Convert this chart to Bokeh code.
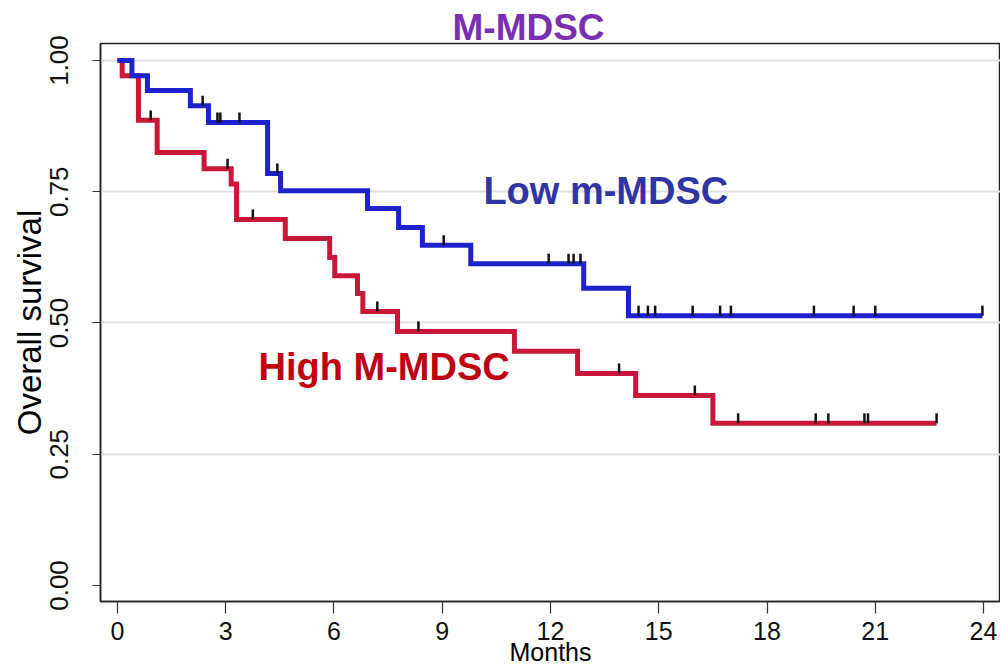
import numpy as np
from bokeh.plotting import figure
from bokeh.models import FixedTicker, Range1d, Label, Title
from bokeh.embed import file_html
from bokeh.resources import INLINE

# Kaplan-Meier step data (months, survival probability)
low_times = [0, 0.40, 0.83, 2.02, 2.52, 4.16, 4.52, 6.93, 7.79, 8.45, 9.79, 12.92, 14.16, 23.97]
low_surv = [1.0, 0.971, 0.943, 0.914, 0.882, 0.785, 0.752, 0.718, 0.682, 0.648, 0.613, 0.566, 0.514, 0.514]
low_censored = [2.36, 2.77, 2.85, 3.38, 4.43, 9.04, 11.95, 12.50, 12.64, 12.83,
                14.44, 14.70, 14.90, 15.94, 16.70, 17.00, 19.30, 20.40, 21.00, 23.97]

high_times = [0, 0.13, 0.58, 1.10, 2.40, 3.15, 3.30, 4.65, 5.88, 6.02, 6.65, 6.80,
              7.76, 11.00, 12.75, 14.36, 16.50, 22.70]
high_surv = [1.0, 0.971, 0.886, 0.825, 0.794, 0.765, 0.697, 0.661, 0.625, 0.590, 0.556,
             0.522, 0.484, 0.446, 0.404, 0.362, 0.309, 0.309]
high_censored = [0.92, 3.05, 3.75, 7.20, 8.34, 13.90, 16.00, 17.20, 19.35, 19.70, 20.70, 20.80, 22.70]

x_ticks = [0, 3, 6, 9, 12, 15, 18, 21, 24]
y_ticks = [0.0, 0.25, 0.5, 0.75, 1.0]
y_tick_labels = {0.0: "0.00", 0.25: "0.25", 0.5: "0.50", 0.75: "0.75", 1.0: "1.00"}

BLUE = "#1E22CC"
RED = "#C8173A"
FONT = "Liberation Sans"

p = figure(width=1000, height=669, output_backend="svg", toolbar_location=None,
           x_range=Range1d(-0.471, 24.471), y_range=Range1d(-0.0305, 1.0324),
           min_border_left=100, min_border_right=0, min_border_top=43, min_border_bottom=68)

p.title = Title(text="M-MDSC", align="left", offset=352, standoff=-8,
                text_font=FONT, text_font_style="bold", text_font_size="37px",
                text_color="#7A2FB2")

p.background_fill_color = "white"
p.border_fill_color = "white"
p.outline_line_color = "#222222"
p.outline_line_width = 1.5

# grid: light horizontal rules only
p.xgrid.visible = False
p.ygrid.ticker = FixedTicker(ticks=[0.25, 0.5, 0.75, 1.0])
p.ygrid.grid_line_color = "#e0e0e0"
p.ygrid.grid_line_width = 2

# axes
p.xaxis.ticker = FixedTicker(ticks=x_ticks)
p.yaxis.ticker = FixedTicker(ticks=y_ticks)
p.yaxis.major_label_overrides = y_tick_labels
for ax in (p.xaxis[0], p.yaxis[0]):
    ax.axis_line_color = "#222222"
    ax.axis_line_width = 1.5
    ax.major_tick_line_color = "#333333"
    ax.major_tick_line_width = 1.2
    ax.major_tick_in = 0
    ax.minor_tick_line_color = None
    ax.major_label_text_color = "#111111"
    ax.axis_label_text_color = "#000000"
    ax.axis_label_text_font_style = "normal"
    ax.major_label_text_font = FONT
    ax.axis_label_text_font = FONT

p.xaxis.major_tick_out = 12
p.xaxis.major_label_text_font_size = "25px"
p.xaxis.major_label_standoff = 8
p.xaxis.axis_label = "Months"
p.xaxis.axis_label_text_font_size = "25px"
p.xaxis.axis_label_standoff = -5

p.yaxis.major_tick_out = 8
p.yaxis.major_label_orientation = "vertical"
p.yaxis.major_label_text_font_size = "26px"
p.yaxis.major_label_standoff = 24
p.yaxis.axis_label = "Overall survival"
p.yaxis.axis_label_text_font_size = "33px"
p.yaxis.axis_label_standoff = 0


def censor_levels(times, surv, marks):
    t = np.asarray(times)
    s = np.asarray(surv)
    idx = np.searchsorted(t, np.asarray(marks), side="right") - 1
    return s[idx]


# survival curves
p.step(high_times, high_surv, mode="after", line_color=RED, line_width=5, line_join="miter")
p.step(low_times, low_surv, mode="after", line_color=BLUE, line_width=5, line_join="miter")

# censoring ticks
for times, surv, marks in ((high_times, high_surv, high_censored),
                           (low_times, low_surv, low_censored)):
    lv = censor_levels(times, surv, marks)
    p.segment(x0=marks, y0=lv, x1=marks, y1=lv + 0.019, line_color="#111111", line_width=2.5)

# group labels
p.add_layout(Label(x=10.14, y=0.752, text="Low m-MDSC", text_align="left", text_baseline="alphabetic",
                   text_font=FONT, text_font_style="bold", text_font_size="38px",
                   text_color="#3035A3"))
p.add_layout(Label(x=3.91, y=0.417, text="High M-MDSC", text_align="left", text_baseline="alphabetic",
                   text_font=FONT, text_font_style="bold", text_font_size="38px",
                   text_color="#C00010"))

open("out.html", "w").write(file_html(p, INLINE))
